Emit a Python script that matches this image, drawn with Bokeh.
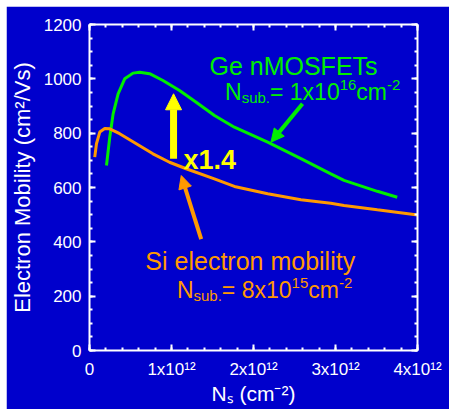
from bokeh.plotting import figure
from bokeh.models import (Label, Arrow, NormalHead, LinearAxis, SingleIntervalTicker,
                          Range1d, CustomJSTickFormatter)
from bokeh.embed import file_html
from bokeh.resources import INLINE

# ---------------- data (Ns in units of 1e12 cm^-2) ----------------
ge_ns = [0.207, 0.247, 0.288, 0.349, 0.429, 0.531, 0.612, 0.733, 0.896, 1.098, 1.301,
         1.524, 1.767, 2.173, 2.578, 2.943, 3.104, 3.510, 3.753]
ge_mu = [681, 785, 871, 945, 1000, 1021, 1024, 1019, 994, 957, 914,
         865, 822, 767, 706, 650, 626, 586, 564]
si_ns = [0.064, 0.085, 0.125, 0.186, 0.247, 0.368, 0.571, 0.774, 0.976, 1.179,
         1.523, 1.767, 2.173, 2.578, 2.943, 3.104, 3.510, 3.955, 4.0]
si_mu = [712, 761, 804, 817, 816, 798, 761, 724, 693, 669,
         632, 604, 577, 555, 542, 534, 518, 501, 499]

x_ticks = [0, 1, 2, 3, 4]
x_tick_labels = ["0", "1x10\u00b9\u00b2", "2x10\u00b9\u00b2", "3x10\u00b9\u00b2", "4x10\u00b9\u00b2"]
x_label = "N\u209b (cm\u207b\u00b2)"
y_label = "Electron Mobility (cm\u00b2/Vs)"

# annotation arrows: (x_start, y_start, x_end, y_end)
ratio_arrow = (1.025, 706, 1.025, 945)
ge_arrow = (2.598, 908, 2.213, 767)
si_arrow = (1.362, 410, 1.119, 644)

BLUE = "#0000CC"
GREEN = "#00EE00"
ORANGE = "#FF9900"
YELLOW = "#FFFF00"
WHITE = "#FFFFFF"
FONT = "Liberation Sans"

p = figure(width=443, height=403, x_range=Range1d(0, 4), y_range=Range1d(0, 1200),
           output_backend="svg", toolbar_location=None,
           background_fill_color=BLUE, border_fill_color=BLUE,
           min_border_left=82, min_border_right=32, min_border_top=18, min_border_bottom=59)
p.margin = (6, 0, 2, 6)
p.outline_line_color = None
p.grid.visible = False

xa = p.below[0]
ya = p.left[0]

xt = SingleIntervalTicker(interval=1, num_minor_ticks=5)
yt = SingleIntervalTicker(interval=200, num_minor_ticks=4)
xa.ticker = xt
ya.ticker = yt
xa.major_label_overrides = dict(zip(x_ticks, x_tick_labels))

top = LinearAxis(ticker=xt, formatter=CustomJSTickFormatter(code="return ''"))
right = LinearAxis(ticker=yt, formatter=CustomJSTickFormatter(code="return ''"))
p.add_layout(top, "above")
p.add_layout(right, "right")

for ax in (xa, ya, top, right):
    ax.axis_line_color = WHITE
    ax.axis_line_width = 2
    ax.major_tick_line_color = WHITE
    ax.major_tick_line_width = 2
    ax.minor_tick_line_color = WHITE
    ax.minor_tick_line_width = 2
    ax.major_tick_in = 6
    ax.major_tick_out = 0
    ax.minor_tick_in = 3
    ax.minor_tick_out = 0
    ax.major_label_text_color = WHITE
    ax.major_label_text_font = FONT
    ax.major_label_text_font_size = "17px"
    ax.axis_label_text_font = FONT
    ax.axis_label_text_font_style = "normal"
    ax.axis_label_text_color = WHITE
top.major_label_standoff = 0
right.major_label_standoff = 0

xa.major_label_standoff = 9
xa.axis_label = x_label
xa.axis_label_text_font_size = "21px"
xa.axis_label_standoff = 0

ya.major_label_standoff = 8
ya.axis_label = y_label
ya.axis_label_text_font_size = "22px"
ya.axis_label_standoff = 6

p.line(ge_ns, ge_mu, line_color=GREEN, line_width=3)
p.line(si_ns, si_mu, line_color=ORANGE, line_width=3)

for (xs, ys, xe, ye), col, lw, hs in [(ratio_arrow, YELLOW, 7, 16),
                                        (ge_arrow, GREEN, 4, 13),
                                        (si_arrow, ORANGE, 4, 13)]:
    p.add_layout(Arrow(x_start=xs, y_start=ys, x_end=xe, y_end=ye, line_color=col,
                       line_width=lw,
                       end=NormalHead(size=hs, fill_color=col, line_color=col, line_width=1)))

# Arial / Liberation Sans advance widths (per 1000 em)
W = {' ': 278, '(': 333, ')': 333, '-': 333, '.': 278, '/': 278, '=': 584, 'N': 722,
     'b': 556, 'c': 500, 'm': 833, 's': 500, 'u': 556, 'x': 500}


def tw(t, size):
    return sum(W.get(ch, 556) for ch in t) * size / 1000.0


def rich(x, y, parts, color, style="normal"):
    off = 0.0
    for text, size, dy in parts:
        p.add_layout(Label(x=x, y=y, x_offset=off, y_offset=dy, text=text,
                           text_font=FONT, text_font_size=f"{size}px",
                           text_font_style=style, text_color=color,
                           text_baseline="alphabetic", text_align="left"))
        off += tw(text, size)


rich(1.463, 1049, [("Ge nMOSFETs", 25, 0)], GREEN)
rich(1.653, 951, [("N", 23, 0), ("sub.", 15, -5), ("= 1x10", 23, 0), ("16", 15, 7),
                  ("cm", 23, 0), ("-2", 15, 7)], GREEN)
rich(1.147, 702, [("x1.4", 27, 0)], YELLOW, "bold")
rich(0.681, 331, [("Si electron mobility", 25, 0)], ORANGE)
rich(1.066, 221, [("N", 23, 0), ("sub.", 15, -5), ("= 8x10", 23, 0), ("15", 15, 7),
                  ("cm", 23, 0), ("-2", 15, 7)], ORANGE)

open("out.html", "w").write(file_html(p, INLINE))
